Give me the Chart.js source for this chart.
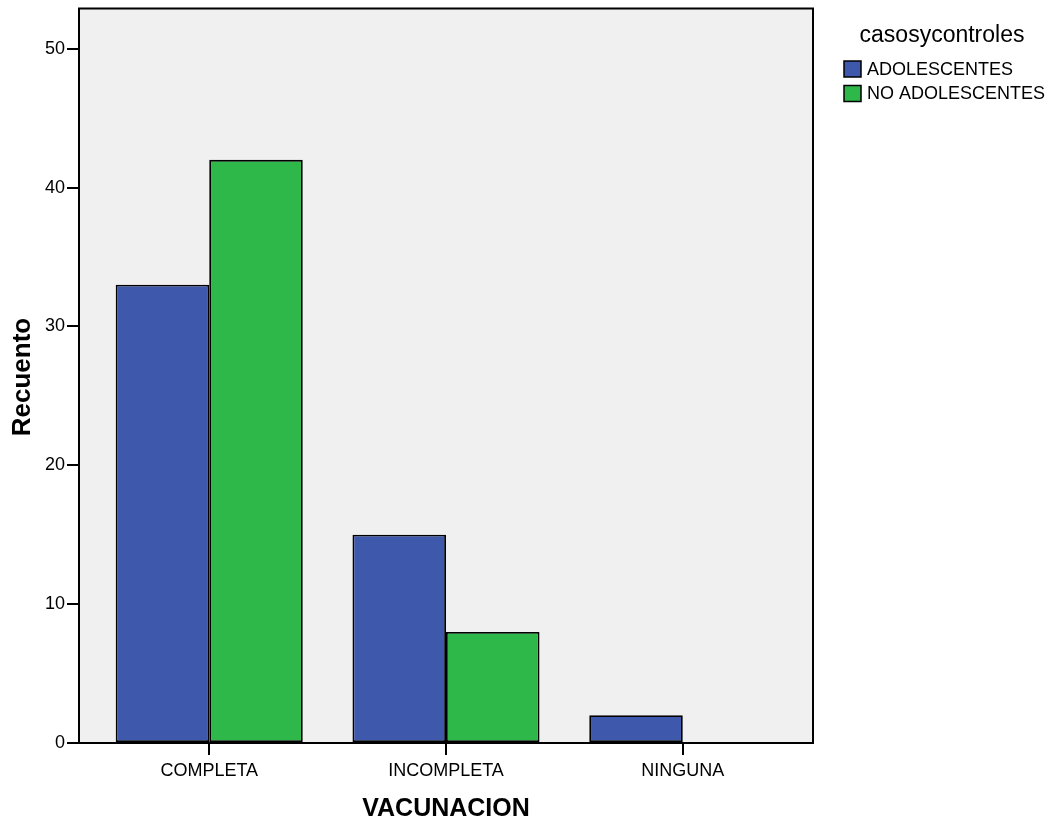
<!DOCTYPE html>
<html>
<head>
<meta charset="utf-8">
<script src="https://cdn.jsdelivr.net/npm/chart.js@4.4.1/dist/chart.umd.min.js"></script>
<style>
html,body{margin:0;padding:0;background:#fff;}
#wrap{width:1051px;height:825px;position:relative;}
</style>
</head>
<body>
<div id="wrap"><canvas id="c" width="1051" height="825"></canvas></div>
<script>
const categories = ['COMPLETA', 'INCOMPLETA', 'NINGUNA'];
const adolescentes = [33, 15, 2];
const noAdolescentes = [42, 8, 0];
const seriesNames = ['ADOLESCENTES', 'NO ADOLESCENTES'];
const yTicks = [0, 10, 20, 30, 40, 50];
const legendTitle = 'casosycontroles';
const xTitle = 'VACUNACION';
const yTitle = 'Recuento';

const FONT = '"Liberation Sans", Arial, sans-serif';

const frame = {
  id: 'frame',
  beforeDraw(chart) {
    const {ctx, chartArea: a} = chart;
    ctx.save();
    ctx.fillStyle = '#F0F0F0';
    ctx.fillRect(a.left, a.top, a.right - a.left, a.bottom - a.top);
    ctx.restore();
  },
  afterDraw(chart) {
    const {ctx, chartArea: a} = chart;
    ctx.save();
    ctx.strokeStyle = '#000';
    ctx.lineWidth = 2;
    ctx.strokeRect(a.left, a.top, a.right - a.left, a.bottom - a.top);
    // axis titles
    ctx.fillStyle = '#000';
    ctx.font = 'bold 25px ' + FONT;
    ctx.textAlign = 'center';
    ctx.textBaseline = 'middle';
    ctx.fillText(xTitle, (a.left + a.right) / 2, 809);
    ctx.font = 'bold 26px ' + FONT;
    ctx.translate(23, 377);
    ctx.rotate(-Math.PI / 2);
    ctx.fillText(yTitle, 0, 0);
    ctx.restore();
    // legend
    ctx.save();
    ctx.fillStyle = '#000';
    ctx.font = '23px ' + FONT;
    ctx.textAlign = 'center';
    ctx.textBaseline = 'middle';
    ctx.fillText(legendTitle, 942, 36);
    ctx.font = '18px ' + FONT;
    ctx.textAlign = 'left';
    chart.data.datasets.forEach((ds, i) => {
      const y = 61 + i * 24.5;
      ctx.fillStyle = ds.backgroundColor;
      ctx.fillRect(844, y, 17, 16);
      ctx.strokeStyle = '#000';
      ctx.lineWidth = 1.5;
      ctx.strokeRect(844, y, 17, 16);
      ctx.fillStyle = '#000';
      ctx.fillText(ds.label, 867, y + 9);
    });
    ctx.restore();
  }
};

new Chart(document.getElementById('c'), {
  type: 'bar',
  data: {
    datasets: [
      {
        label: seriesNames[0],
        data: adolescentes.map((v, i) => ({x: i, y: v})),
        backgroundColor: '#3E58AB',
        borderColor: '#000',
        borderWidth: 1.8,
        borderSkipped: false
      },
      {
        label: seriesNames[1],
        data: noAdolescentes.map((v, i) => ({x: i, y: v})),
        backgroundColor: '#2EB84A',
        borderColor: '#000',
        borderWidth: 1.8,
        borderSkipped: false
      }
    ]
  },
  options: {
    responsive: false,
    animation: false,
    devicePixelRatio: 1,
    categoryPercentage: 0.79,
    barPercentage: 1,
    layout: {padding: {left: 0, top: 8.5, right: 238, bottom: 0}},
    plugins: {legend: {display: false}, tooltip: {enabled: false}},
    scales: {
      x: {
        type: 'linear',
        offset: false,
        min: -0.55,
        max: 2.55,
        afterBuildTicks(scale) {
          scale.ticks = categories.map((c, i) => ({value: i}));
        },
        afterFit(scale) { scale.height = 82; scale.paddingLeft = 0; scale.paddingRight = 0; },
        ticks: {
          callback: (v) => categories[v],
          color: '#000',
          font: {family: FONT, size: 18},
          padding: 5,
          maxRotation: 0,
          autoSkip: false
        },
        grid: {offset: false, drawOnChartArea: false, drawTicks: true, tickLength: 12, color: '#000', lineWidth: 2},
        border: {display: false}
      },
      y: {
        min: 0,
        max: 52.9,
        afterBuildTicks(scale) {
          scale.ticks = yTicks.map(v => ({value: v}));
        },
        afterFit(scale) { scale.width = 79; scale.paddingTop = 0; scale.paddingBottom = 0; },
        ticks: {
          color: '#000',
          font: {family: FONT, size: 18},
          padding: 2
        },
        grid: {drawOnChartArea: false, drawTicks: true, tickLength: 12, color: '#000', lineWidth: 2},
        border: {display: false}
      }
    }
  },
  plugins: [frame]
});
</script>
</body>
</html>
